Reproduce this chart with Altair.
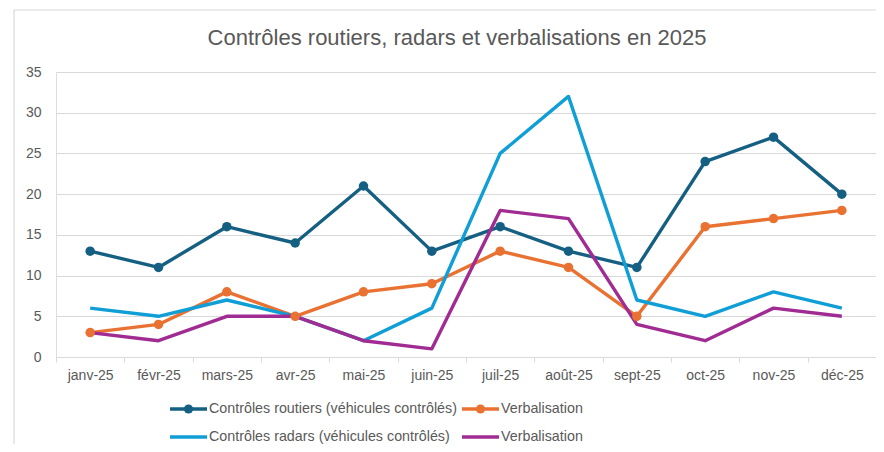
import altair as alt
import pandas as pd

title_text = "Contrôles routiers, radars et verbalisations en 2025"

months = ["janv-25", "févr-25", "mars-25", "avr-25", "mai-25", "juin-25",
          "juil-25", "août-25", "sept-25", "oct-25", "nov-25", "déc-25"]

series_ids = ["routiers", "verbal1", "radars", "verbal2"]
series_labels = ["Contrôles routiers (véhicules contrôlés)", "Verbalisation",
                 "Contrôles radars (véhicules contrôlés)", "Verbalisation"]
series_colors = ["#156082", "#E97132", "#0F9ED5", "#A02B93"]
series_markers = [True, True, False, False]

routiers = [13, 11, 16, 14, 21, 13, 16, 13, 11, 24, 27, 20]
verbal1 = [3, 4, 8, 5, 8, 9, 13, 11, 5, 16, 17, 18]
radars = [6, 5, 7, 5, 2, 6, 25, 32, 7, 5, 8, 6]
verbal2 = [3, 2, 5, 5, 2, 1, 18, 17, 4, 2, 6, 5]

values = {"routiers": routiers, "verbal1": verbal1, "radars": radars, "verbal2": verbal2}

rows = []
for sid in series_ids:
    for m, v in zip(months, values[sid]):
        rows.append({"mois": m, "serie": sid, "valeur": v,
                     "marker": series_markers[series_ids.index(sid)]})
df = pd.DataFrame(rows)

FONT = "Liberation Sans"
GREY = "#595959"
GRID = "#d9d9d9"

color_scale = alt.Scale(domain=series_ids, range=series_colors)

x_enc = alt.X("mois:N", sort=months, bandPosition=0.5,
              scale=alt.Scale(type="band", paddingInner=0, paddingOuter=0),
              axis=alt.Axis(title=None, tickBand="extent", labelAngle=0,
                            domainColor=GRID, tickColor=GRID, tickSize=5,
                            labelPadding=6, labelColor=GREY, labelFontSize=14,
                            labelFont=FONT, grid=False))
y_enc = alt.Y("valeur:Q", scale=alt.Scale(domain=[0, 35], nice=False),
              axis=alt.Axis(title=None, values=list(range(0, 36, 5)),
                            domain=False, ticks=False, grid=True, gridColor=GRID,
                            gridWidth=1, labelPadding=15, labelColor=GREY,
                            labelFontSize=14, labelFont=FONT))

base = alt.Chart(df)

lines = base.mark_line(strokeWidth=3.4, strokeJoin="round").encode(
    x=x_enc, y=y_enc,
    color=alt.Color("serie:N", scale=color_scale, legend=None),
    order=alt.Order("mois_idx:Q"),
    detail="serie:N",
).transform_calculate(mois_idx=f"indexof({months!r}, datum.mois)")

points = base.transform_filter("datum.marker").mark_point(
    filled=True, size=90, opacity=1, shape="circle").encode(
    x=x_enc, y=y_enc,
    color=alt.Color("serie:N", scale=color_scale, legend=None),
)

# custom legend (layout computed from series index)
leg_rows = []
for i, (sid, lab, mk) in enumerate(zip(series_ids, series_labels, series_markers)):
    col, row = i % 2, i // 2
    x0 = 114 + col * 292
    leg_rows.append({"serie": sid, "label": lab, "marker": mk,
                     "sx": x0, "sx2": x0 + 37, "sxm": x0 + 18.5,
                     "tx": x0 + 39, "ty": 337 + row * 28})
leg = pd.DataFrame(leg_rows)

leg_base = alt.Chart(leg)
leg_lines = leg_base.mark_rule(strokeWidth=3.4).encode(
    x=alt.X("sx:Q", scale=None), x2="sx2:Q",
    y=alt.Y("ty:Q", scale=None),
    color=alt.Color("serie:N", scale=color_scale, legend=None),
)
leg_pts = leg_base.transform_filter("datum.marker").mark_point(
    filled=True, size=85, opacity=1, shape="circle").encode(
    x=alt.X("sxm:Q", scale=None), y=alt.Y("ty:Q", scale=None),
    color=alt.Color("serie:N", scale=color_scale, legend=None),
)
leg_text = leg_base.mark_text(align="left", baseline="middle", fontSize=14.3,
                              font=FONT, color=GREY).encode(
    x=alt.X("tx:Q", scale=None), y=alt.Y("ty:Q", scale=None), text="label:N")

frame = alt.Chart(pd.DataFrame({"a": [0]})).mark_rect(
    fill=None, stroke=GRID, strokeWidth=1.2).encode(
    x=alt.value(-42), x2=alt.value(900), y=alt.value(-62), y2=alt.value(500))

title = alt.Chart(pd.DataFrame({"t": [title_text]})).mark_text(
    align="center", baseline="middle", fontSize=22, font=FONT, color=GREY).encode(
    x=alt.value(401), y=alt.value(-34), text="t:N")

chart = alt.layer(frame, title, lines, points, leg_lines, leg_pts, leg_text).properties(
    width=820, height=285,
    autosize=alt.AutoSizeParams(type="none"),
    padding={"left": 48, "top": 64, "right": 0, "bottom": 87},
).configure_view(stroke=None).configure(background="white")

chart.save("out.html", embed_options={"renderer": "svg", "actions": False})
